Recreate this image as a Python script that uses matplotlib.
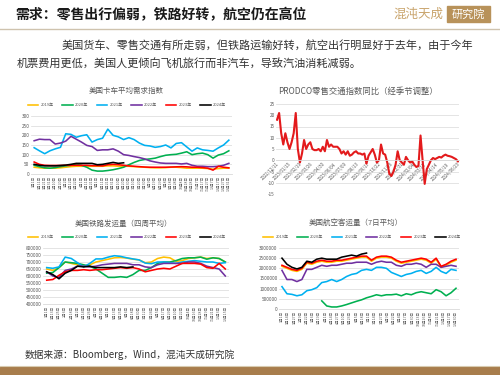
import matplotlib

matplotlib.use("Agg")
import matplotlib.pyplot as plt
import numpy as np
from matplotlib.patches import Rectangle

plt.rcParams["font.family"] = ["Noto Sans CJK SC", "DejaVu Sans"]

YEARS = ["2019年", "2020年", "2021年", "2022年", "2023年", "2024年"]
COLORS = ["#FFC000", "#00B050", "#00B0F0", "#7030A0", "#FF0000", "#000000"]
NAN = np.nan

# ---- 美国卡车平均需求指数 ----
truck_labels = [
    "1月1日", "1月11日", "1月21日", "1月31日", "2月10日", "2月20日", "3月2日",
    "3月12日", "3月22日", "4月1日", "4月11日", "4月21日", "5月1日", "5月11日",
    "5月21日", "5月31日", "6月10日", "6月20日", "6月30日", "7月10日", "7月20日",
    "7月30日", "8月9日", "8月19日", "8月29日", "9月8日", "9月18日", "9月28日",
    "10月8日", "10月18日", "10月28日", "11月7日", "11月17日", "11月27日",
    "12月7日", "12月17日", "12月27日", "12月31日",
]
truck_2019 = [35, 32, 30, 30, 30, 32, 35, 38, 40, 40, 40, 40, 40, 40, 42, 42, 40, 40, 40,
              38, 36, 35, 33, 32, 32, 33, 35, 35, 33, 30, 30, 30, 30, 28, 25, 28, 30, 30]
truck_2020 = [45, 38, 32, 30, 33, 38, 42, 45, 50, 45, 35, 20, 15, 15, 18, 22, 28, 35, 48,
              60, 70, 75, 78, 82, 90, 97, 100, 102, 108, 115, 100, 105, 108, 100, 82, 98, 105, 120]
truck_2021 = [136, 120, 105, 120, 130, 138, 208, 205, 190, 198, 203, 165, 178, 185, 232, 200,
              192, 178, 188, 178, 160, 148, 145, 138, 142, 150, 135, 158, 162, 140, 118, 135,
              125, 122, 118, 135, 150, 175]
truck_2022 = [172, 180, 178, 178, 155, 160, 170, 195, 180, 165, 148, 142, 122, 125, 125, 130,
              118, 100, 96, 90, 85, 78, 68, 62, 57, 55, 55, 55, 52, 55, 45, 40, 40, 38, 38, 40,
              45, 55]
truck_2023 = [62, 50, 45, 44, 44, 44, 45, 45, 45, 45, 45, 43, 43, 42, 48, 50, 48, 45, 42,
              40, 38, 36, 35, 35, 35, 35, 36, 37, 38, 37, 35, 35, 33, 30, 20, 40, 35, 32]
truck_2024 = [50, 45, 42, 42, 42, 44, 46, 50, 55, 55, 55, 55, 48, 50, 55, 60, 55, 58]

# ---- PRODCO零售交通指数同比 ----
prodco_labels = [
    "2022/12/11", "2023/01/15", "2023/02/19", "2023/03/26", "2023/04/30", "2023/06/04",
    "2023/07/09", "2023/08/13", "2023/09/17", "2023/10/22", "2023/11/26", "2023/12/31",
    "2024/02/04", "2024/03/10", "2024/04/14", "2024/05/19", "2024/06/23",
]
prodco_yoy = [18, 21, 12, 7, 12, 8, 5, 8, 12, 21, 5, -1, 3, 9, 5, 7, 8, 5, 4.5, 4.5, 5, 4,
              6, 4, 9, 6, 7, 6, 6, 6, 5, 3, 4, 2.5, 4, 2, 2.5, 3.5, 4, 3, 3, 2.5, 3, -1.5, 2,
              3.5, 5, 2.5, -1, 0, 7, 3, 2.5, -1, -6, -7, -5, -2, 4, 0, -1, -2, 1.5, 0, -1,
              -0.5, -2, -3, -2.5, 11, 0, -10.5, -4, -2, 0, 1, 0.5, 1, 1.5, 1.2, 2, 2.5, 2,
              1.8, 1.5, 1, 0.5, -0.5]

# ---- 美国铁路发运量（四周平均），千车 ----
rail_labels = [
    "1月1日", "1月13日", "1月25日", "2月6日", "2月18日", "3月2日", "3月14日", "3月26日",
    "4月7日", "4月19日", "5月1日", "5月13日", "5月25日", "6月6日", "6月18日", "6月30日",
    "7月12日", "7月24日", "8月5日", "8月17日", "8月29日", "9月10日", "9月22日", "10月4日",
    "10月16日", "10月28日", "11月9日", "11月21日", "12月3日", "12月15日",
]
rail_2019 = [650, 640, 660, 700, 690, 680, 670, 680, 700, 710, 720, 730, 732, 728, 720,
             715, 695, 700, 725, 735, 730, 705, 710, 725, 730, 735, 725, 730, 725, 700]
rail_2020 = [620, 625, 660, 700, 695, 690, 680, 670, 650, 620, 590, 590, 595, 590, 610,
             640, 640, 660, 690, 700, 700, 710, 725, 730, 730, 735, 720, 730, 725, 700]
rail_2021 = [660, 655, 665, 735, 725, 695, 665, 690, 722, 722, 735, 745, 740, 730, 722,
             715, 692, 688, 700, 700, 695, 690, 700, 705, 710, 705, 700, 700, 690, 695]
rail_2022 = [630, 600, 590, 640, 650, 670, 670, 665, 670, 680, 685, 690, 690, 690, 680,
             680, 665, 660, 680, 690, 690, 690, 690, 700, 700, 690, 670, 660, 650, 600]
rail_2023 = [570, 575, 605, 630, 640, 640, 645, 640, 645, 645, 650, 655, 660, 655, 660,
             650, 630, 640, 650, 655, 650, 670, 690, 690, 690, 685, 660, 655, 690, 650]
rail_2024 = [630, 610, 580, 620, 640, 670, 665, 670, 660, 660, 660, 660, 665, 660, 665]

# ---- 美国航空客运量（7日平均），百万人次 ----
air_labels = [
    "1月1日", "1月14日", "1月27日", "2月9日", "2月22日", "3月6日", "3月19日", "4月1日",
    "4月14日", "4月27日", "5月10日", "5月23日", "6月5日", "6月18日", "7月1日", "7月14日",
    "7月27日", "8月9日", "8月22日", "9月4日", "9月17日", "9月30日", "10月13日", "10月26日",
    "11月8日", "11月21日", "12月4日", "12月17日", "12月30日",
]
air_2019 = [2.1, 2.0, 1.9, 1.85, 1.95, 2.25, 2.2, 2.3, 2.35, 2.3, 2.3, 2.35, 2.35, 2.4,
            2.45, 2.5, 2.55, 2.55, 2.35, 2.5, 2.55, 2.55, 2.5, 2.35, 2.25, 2.3, 2.35, 2.4,
            2.45, 2.4, 2.25, 2.45, 2.05, 2.15, 2.3, 2.4]
air_2020 = [NAN] * 8 + [0.4, 0.15, 0.1, 0.1, 0.15, 0.22, 0.3, 0.38, 0.45, 0.55, 0.62, 0.7,
                        0.65, 0.7, 0.7, 0.73, 0.65, 0.75, 0.7, 0.8, 0.85, 0.8, 0.75, 0.95,
                        0.85, 0.65, 0.8, 1.02]
air_2021 = [1.1, 0.75, 0.72, 0.65, 0.7, 0.9, 0.95, 1.05, 1.3, 1.35, 1.45, 1.35, 1.45, 1.6,
            1.7, 1.75, 1.9, 1.95, 1.9, 2.05, 2.05, 2.0, 1.8, 1.7, 1.6, 1.7, 1.75, 1.85, 1.9,
            1.75, 1.85, 2.05, 1.85, 1.75, 1.95, 1.9]
air_2022 = [1.9, 1.45, 1.45, 1.35, 1.45, 1.95, 1.95, 2.05, 2.15, 2.1, 2.15, 2.15, 2.2, 2.25,
            2.25, 2.3, 2.3, 2.3, 2.2, 2.3, 2.35, 2.3, 2.3, 2.15, 2.1, 2.2, 2.2, 2.25, 2.2,
            2.05, 2.2, 2.2, 2.05, 2.1, 2.15, 2.1]
air_2023 = [2.15, 2.05, 1.95, 1.9, 2.0, 2.3, 2.25, 2.35, 2.4, 2.35, 2.35, 2.4, 2.4, 2.45,
            2.5, 2.55, 2.6, 2.6, 2.4, 2.55, 2.6, 2.6, 2.55, 2.4, 2.3, 2.35, 2.4, 2.45, 2.5,
            2.45, 2.3, 2.5, 2.1, 2.2, 2.35, 2.45]
air_2024 = [2.5, 2.2, 2.05, 1.97, 2.05, 2.35, 2.3, 2.45, 2.5, 2.45, 2.45, 2.45, 2.55, 2.6,
            2.65, 2.6, 2.7, 2.75]

GRID = "#D9D9D9"
TICK = "#595959"


def px_axes(fig, x0, y0, x1, y1):
    """Axes from pixel box (top-left origin) on a 500x375 canvas."""
    return fig.add_axes([x0 / 500, 1 - y1 / 375, (x1 - x0) / 500, (y1 - y0) / 375])


def fig_xy(x, y):
    return x / 500, 1 - y / 375


def style_ax(ax, yticks, ylabels):
    ax.set_yticks(yticks)
    ax.set_yticklabels(ylabels, fontsize=3.4, color=TICK)
    ax.set_ylim(yticks[0], yticks[-1])
    ax.grid(axis="y", color=GRID, lw=0.5)
    ax.set_axisbelow(True)
    for s in ("top", "right", "left"):
        ax.spines[s].set_visible(False)
    ax.spines["bottom"].set_color(GRID)
    ax.spines["bottom"].set_linewidth(0.6)
    ax.tick_params(axis="both", length=0, pad=1)


def year_lines(fig, ax, series, title, title_xy, legend_xy):
    for name, vals, c in zip(YEARS, series, COLORS):
        ax.plot(np.arange(len(vals)), vals, color=c, lw=1.15, label=name)
    ax.legend(loc="center", bbox_to_anchor=fig_xy(*legend_xy),
              bbox_transform=fig.transFigure, ncol=6, frameon=False,
              fontsize=2.9, handlelength=2.6, columnspacing=2.2, handletextpad=0.5,
              labelcolor=TICK, borderpad=0)
    fig.text(*fig_xy(*title_xy), title, fontsize=5.4, color=TICK,
             ha="center", va="center")


def date_ticks(ax, labels, n_points):
    pos = np.linspace(0, n_points - 1, len(labels))
    ax.set_xticks(pos)
    ax.set_xticklabels(labels, rotation=90, fontsize=2.6, color=TICK)
    ax.set_xlim(-0.6, n_points - 0.4)


fig = plt.figure(figsize=(5, 3.75), dpi=100)

# header
fig.text(*fig_xy(15, 15), "需求：零售出行偏弱，铁路好转，航空仍在高位",
         fontsize=10, fontweight="bold", color="#1A1A1A", va="center", ha="left")
fig.text(*fig_xy(393, 14), "混沌天成", fontsize=9, color="#C9A46C",
         va="center", ha="left")
fig.patches.append(Rectangle(fig_xy(447, 22), 43 / 500, 16 / 375,
                             transform=fig.transFigure, color="#B8925A"))
fig.text(*fig_xy(468.5, 14), "研究院", fontsize=8, color="white",
         va="center", ha="center")
fig.add_artist(plt.Line2D([0, 1], [1 - 29 / 375] * 2, transform=fig.transFigure,
                          color="#CFC3AE", lw=1.0))

fig.text(*fig_xy(62, 45),
         "美国货车、零售交通有所走弱，但铁路运输好转，航空出行明显好于去年，由于今年",
         fontsize=8.0, color="#333333", va="center", ha="left")
fig.text(*fig_xy(17, 63),
         "机票费用更低，美国人更倾向飞机旅行而非汽车，导致汽油消耗减弱。",
         fontsize=8.0, color="#333333", va="center", ha="left")

# chart 1: truck demand
ax1 = px_axes(fig, 31, 116, 232, 174)
year_lines(fig, ax1,
           [truck_2019, truck_2020, truck_2021, truck_2022, truck_2023, truck_2024],
           "美国卡车平均需求指数", (126, 91), (127, 105))
style_ax(ax1, list(range(0, 301, 50)), [str(v) for v in range(0, 301, 50)])
date_ticks(ax1, truck_labels, len(truck_2019))

# chart 2: PRODCO
ax2 = px_axes(fig, 276, 104, 459, 194)
ax2.plot(np.arange(len(prodco_yoy)), prodco_yoy, color="#E31A1C", lw=1.5)
style_ax(ax2, list(range(-15, 26, 5)), [str(v) for v in range(-15, 26, 5)])
ax2.spines["bottom"].set_position(("data", 0))
ax2.set_xticks(np.linspace(0, len(prodco_yoy) - 1, len(prodco_labels)))
ax2.set_xticklabels(prodco_labels, rotation=45, ha="right", rotation_mode="anchor",
                    fontsize=3.2, color=TICK)
ax2.set_xlim(-0.5, len(prodco_yoy) - 0.5)
fig.text(*fig_xy(358, 91), "PRODCO零售交通指数同比（经季节调整）", fontsize=6.0,
         color=TICK, ha="center", va="center")

# chart 3: rail
ax3 = px_axes(fig, 43, 248, 229, 304)
year_lines(fig, ax3, [[v * 1000 for v in s] for s in
                      (rail_2019, rail_2020, rail_2021, rail_2022, rail_2023, rail_2024)],
           "美国铁路发运量（四周平均）", (123, 224), (127, 237))
style_ax(ax3, list(range(400000, 800001, 50000)),
         [str(v) for v in range(400000, 800001, 50000)])
date_ticks(ax3, rail_labels, len(rail_2019))

# chart 4: air passengers
ax4 = px_axes(fig, 279, 248, 459, 309)
year_lines(fig, ax4, [[v * 1e6 for v in s] for s in
                      (air_2019, air_2020, air_2021, air_2022, air_2023, air_2024)],
           "美国航空客运量（7日平均）", (356, 223), (362, 237))
style_ax(ax4, list(range(0, 3000001, 500000)),
         [str(v) for v in range(0, 3000001, 500000)])
date_ticks(ax4, air_labels, len(air_2021))

# footer
fig.text(*fig_xy(25, 355), "数据来源：Bloomberg，Wind，混沌天成研究院",
         fontsize=7.0, color="#333333", va="center", ha="left")
fig.patches.append(Rectangle((0, 0), 1, 8 / 375, transform=fig.transFigure,
                             color="#A87D4C"))
fig.add_artist(plt.Line2D([0, 1], [9 / 375] * 2, transform=fig.transFigure,
                          color="#D9CBB0", lw=0.8))

fig.savefig("out.png", dpi=100)
